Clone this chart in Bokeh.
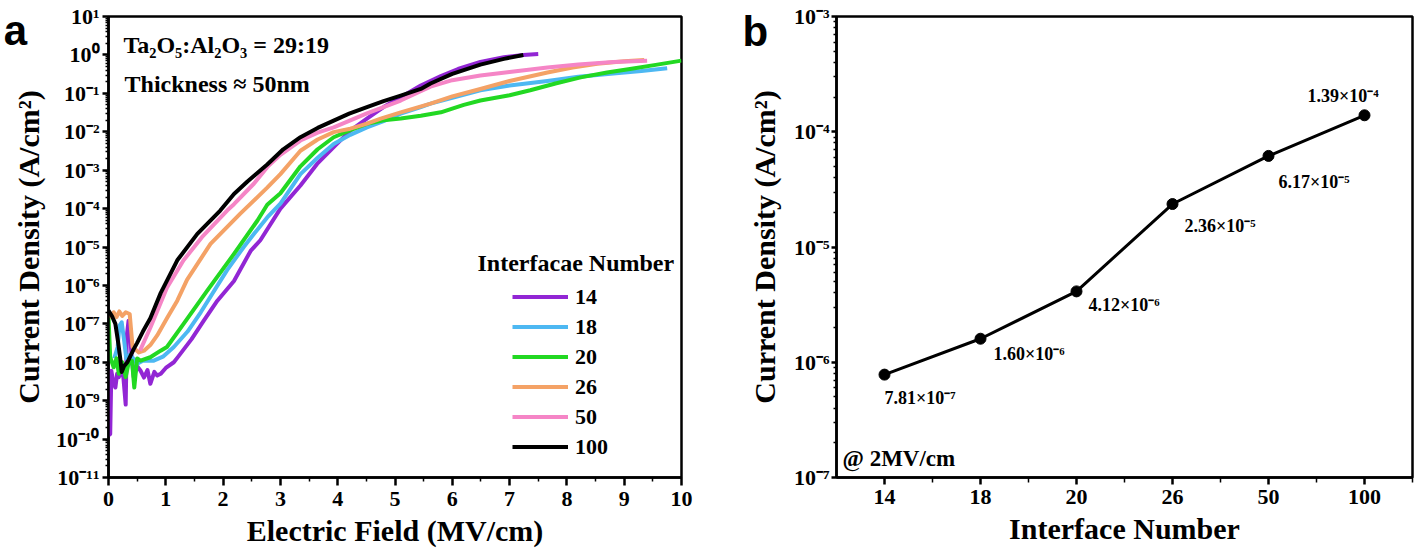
from bokeh.plotting import figure
from bokeh.layouts import row
from bokeh.models import (Legend, LegendItem, Label, FixedTicker, CustomJSTickFormatter,
                          ColumnDataSource)
from bokeh.core.properties import value
from bokeh.embed import file_html
from bokeh.resources import INLINE

SERIF = "Liberation Serif"

# ---------------- Panel a data: J-E curves (E in MV/cm, J in A/cm^2) ----------------
e_14 = [0.0, 0.03, 0.05, 0.08, 0.12, 0.15, 0.18, 0.22, 0.26, 0.3, 0.32, 0.35, 0.37, 0.4, 0.44,
        0.5, 0.56, 0.62, 0.68, 0.73, 0.8, 0.85, 0.91, 1.0, 1.14, 1.2, 1.45, 1.66, 1.9, 2.19,
        2.48, 2.65, 3.0, 3.35, 3.64, 3.93, 4.22, 4.51, 4.8, 5.1, 5.45, 5.8, 6.1, 6.49, 6.9,
        7.24, 7.5]
j_14 = [1.26e-10, 1.35e-10, 6.0e-9, 3.2e-9, 2.2e-9, 5.0e-9, 4.1e-9, 6.3e-9, 4.0e-9, 7.9e-10,
        5.0e-8, 1.2e-7, 1.0e-7, 1.6e-8, 4.1e-9, 7.9e-9, 6.0e-9, 4.0e-9, 6.3e-9, 2.75e-9, 5.6e-9,
        4.5e-9, 5.0e-9, 7.1e-9, 1.0e-8, 1.3e-8, 4.0e-8, 1.2e-7, 4.0e-7, 1.3e-6, 7.9e-6, 1.5e-5,
        1.0e-4, 4.0e-4, 1.45e-3, 4.0e-3, 1.07e-2, 2.2e-2, 4.4e-2, 7.9e-2, 0.16, 0.28, 0.43,
        0.66, 0.87, 1.0, 1.05]

e_18 = [0.1, 0.16, 0.19, 0.23, 0.27, 0.31, 0.38, 0.5, 0.6, 0.79, 0.95, 1.14, 1.38, 1.61, 2.07,
        2.36, 2.54, 2.77, 3.0, 3.35, 3.65, 3.93, 4.22, 4.51, 4.8, 5.1, 5.45, 5.62, 6.0, 6.49,
        7.0, 7.66, 8.2, 8.81, 9.3, 9.75]
j_18 = [1.26e-8, 2.5e-8, 8.9e-8, 1.1e-7, 4.0e-8, 1.26e-8, 1.6e-8, 9.1e-9, 1.1e-8, 1.1e-8,
        1.4e-8, 2.5e-8, 6.3e-8, 2.0e-7, 2.5e-6, 1.0e-5, 2.2e-5, 5.9e-5, 1.35e-4, 7.9e-4, 2.1e-3,
        4.8e-3, 8.3e-3, 1.3e-2, 1.9e-2, 2.95e-2, 4.4e-2, 5.4e-2, 7.6e-2, 0.12, 0.16, 0.21,
        0.27, 0.33, 0.38, 0.45]

e_20 = [0.0, 0.03, 0.09, 0.14, 0.18, 0.24, 0.3, 0.36, 0.41, 0.45, 0.5, 0.56, 0.73, 0.91, 1.02,
        1.31, 1.72, 2.19, 2.6, 2.77, 3.0, 3.35, 3.65, 3.93, 4.22, 4.51, 4.8, 5.1, 5.45, 5.8,
        6.2, 6.49, 7.0, 7.36, 7.8, 8.24, 8.7, 9.1, 9.55, 10.0]
j_20 = [1.5e-7, 1.35e-8, 7.4e-9, 1.26e-8, 5.0e-9, 1.0e-8, 4.1e-9, 1.1e-8, 1.1e-8, 2.2e-9,
        1.26e-8, 1.1e-8, 1.35e-8, 2.0e-8, 2.5e-8, 1.0e-7, 7.2e-7, 6.6e-6, 4.9e-5, 1.26e-4,
        2.5e-4, 1.26e-3, 3.5e-3, 7.2e-3, 1.1e-2, 1.6e-2, 2.0e-2, 2.2e-2, 2.6e-2, 3.2e-2, 5.0e-2,
        6.5e-2, 8.9e-2, 0.12, 0.18, 0.26, 0.35, 0.43, 0.55, 0.71]

e_26 = [0.02, 0.09, 0.14, 0.19, 0.24, 0.3, 0.37, 0.42, 0.53, 0.62, 0.73, 0.85, 1.02, 1.2, 1.37,
        1.78, 2.3, 2.77, 3.0, 3.35, 3.65, 3.93, 4.22, 4.5, 4.75, 5.1, 5.62, 6.0, 6.49, 7.0,
        7.66, 8.1, 8.53, 9.0, 9.35]
j_26 = [1.4e-7, 2.0e-7, 1.5e-7, 2.1e-7, 1.6e-7, 2.0e-7, 1.8e-7, 2.5e-8, 1.8e-8, 2.0e-8, 2.8e-8,
        5.0e-8, 1.4e-7, 4.0e-7, 1.4e-6, 1.2e-5, 7.4e-5, 3.5e-4, 7.9e-4, 3.2e-3, 6.3e-3, 9.8e-3,
        1.2e-2, 1.6e-2, 2.2e-2, 3.2e-2, 5.4e-2, 8.3e-2, 0.13, 0.21, 0.35, 0.47, 0.59, 0.68, 0.74]

e_50 = [0.55, 0.73, 1.02, 1.31, 1.63, 2.07, 2.19, 2.54, 2.77, 3.0, 3.35, 3.65, 3.93, 4.51, 5.1,
        5.4, 5.62, 6.0, 6.49, 7.0, 7.66, 8.2, 8.81, 9.4]
j_50 = [2.0e-8, 7.9e-8, 8.7e-7, 4.5e-6, 1.8e-5, 8.9e-5, 1.3e-4, 4.5e-4, 1.2e-3, 2.5e-3, 5.9e-3,
        9.5e-3, 1.3e-2, 3.0e-2, 6.5e-2, 0.105, 0.15, 0.22, 0.29, 0.36, 0.47, 0.56, 0.65, 0.71]

e_100 = [0.0, 0.06, 0.12, 0.17, 0.21, 0.23, 0.27, 0.33, 0.44, 0.5, 0.6, 0.73, 0.91, 1.2, 1.55,
         1.95, 2.19, 2.42, 2.77, 3.05, 3.35, 3.65, 3.93, 4.2, 4.51, 4.8, 5.1, 5.45, 5.62, 6.0,
         6.49, 6.9, 7.24]
j_100 = [2.2e-7, 1.6e-7, 1.0e-7, 3.2e-8, 1.1e-8, 5.6e-9, 7.9e-9, 1.0e-8, 2.2e-8, 3.2e-8, 6.3e-8,
         1.4e-7, 6.3e-7, 4.5e-6, 2.2e-5, 8.9e-5, 2.4e-4, 5.0e-4, 1.4e-3, 3.5e-3, 7.2e-3, 1.26e-2,
         1.95e-2, 2.95e-2, 4.4e-2, 6.3e-2, 8.7e-2, 0.13, 0.18, 0.32, 0.56, 0.79, 1.0]

series_labels = ["14", "18", "20", "26", "50", "100"]
series_e = [e_14, e_18, e_20, e_26, e_50, e_100]
series_j = [j_14, j_18, j_20, j_26, j_50, j_100]
series_colors = ["#9226D4", "#4DB8F2", "#22D822", "#F4A266", "#F585C6", "#000000"]

# ---------------- Panel b data ----------------
interface_numbers = ["14", "18", "20", "26", "50", "100"]
current_at_2mv = [7.81e-7, 1.60e-6, 4.12e-6, 2.36e-5, 6.17e-5, 1.39e-4]
value_labels = ["7.81×10⁻⁷", "1.60×10⁻⁶", "4.12×10⁻⁶", "2.36×10⁻⁵", "6.17×10⁻⁵", "1.39×10⁻⁴"]
label_dx = [0, 13, 12, 12, 10, -57]
label_dy = [13, 5, 4, 12, 16, -9]
label_base = ["top", "top", "top", "top", "top", "bottom"]

SUP_JS = """
const s = {'0':'\u2070','1':'\u00b9','2':'\u00b2','3':'\u00b3','4':'\u2074','5':'\u2075',
           '6':'\u2076','7':'\u2077','8':'\u2078','9':'\u2079','-':'\u207b'};
const e = Math.round(Math.log10(tick));
return '10' + String(e).split('').map(c => s[c]).join('');
"""


def style_axis(ax, label_size, tick_size="22px"):
    ax.axis_line_width = 2.5
    ax.axis_line_color = "black"
    ax.major_tick_line_width = 2.5
    ax.major_tick_line_color = "black"
    ax.minor_tick_line_width = 1.5
    ax.minor_tick_line_color = "black"
    ax.major_tick_in = 0
    ax.minor_tick_in = 0
    ax.major_label_text_font = SERIF
    ax.major_label_text_font_style = "bold"
    ax.major_label_text_font_size = tick_size
    ax.major_label_text_color = "black"
    ax.axis_label_text_font = SERIF
    ax.axis_label_text_font_style = "bold"
    ax.axis_label_text_font_size = label_size
    ax.axis_label_text_color = "black"


txt_style = dict(text_font=SERIF, text_font_style="bold", text_color="black",
                 text_baseline="alphabetic")
letter_style = dict(text_font="Liberation Sans", text_font_style="bold", text_font_size="42px",
                    text_color="black", text_baseline="alphabetic")

# ---------------- Panel a ----------------
p1 = figure(width=706, height=558, y_axis_type="log", x_range=(0, 10), y_range=(1e-11, 10),
            output_backend="svg", toolbar_location=None,
            min_border_left=108, min_border_right=25, min_border_top=16, min_border_bottom=81)
p1.grid.visible = False
p1.outline_line_color = "black"
p1.outline_line_width = 2.5
p1.outline_line_alpha = 1.0

renderers = []
for lab, ex, jy, col in zip(series_labels, series_e, series_j, series_colors):
    src = ColumnDataSource(dict(e=ex, j=jy))
    r = p1.line("e", "j", source=src, line_color=col, line_width=4, line_join="round")
    renderers.append((lab, r))

p1.xaxis.axis_label = "Electric Field (MV/cm)"
p1.yaxis.axis_label = "Current Density (A/cm²)"
p1.xaxis.ticker = FixedTicker(ticks=list(range(0, 11)),
                              minor_ticks=[i + 0.5 for i in range(0, 10)])
p1.yaxis.ticker = FixedTicker(ticks=[10.0 ** k for k in range(-11, 2)],
                              minor_ticks=[m * 10.0 ** k for k in range(-11, 1) for m in range(2, 10)])
p1.yaxis.formatter = CustomJSTickFormatter(code=SUP_JS)
for ax in p1.xaxis:
    style_axis(ax, "30px")
    ax.major_tick_out = 8
    ax.minor_tick_out = 4
    ax.major_label_standoff = 6
    ax.axis_label_standoff = 5
for ax in p1.yaxis:
    style_axis(ax, "30px")
    ax.major_tick_out = 6
    ax.minor_tick_out = 3
    ax.major_label_standoff = 3
    ax.axis_label_standoff = 8

legend = Legend(items=[LegendItem(label=lab, renderers=[r]) for lab, r in renderers],
                location=(404, 17), orientation="vertical",
                glyph_width=56, glyph_height=27, label_height=27, spacing=3,
                label_standoff=7, padding=0, margin=0,
                label_text_font=SERIF, label_text_font_style="bold",
                label_text_font_size="22px", label_text_color="black",
                border_line_color=None, background_fill_alpha=0)
p1.add_layout(legend, "center")

p1.add_layout(Label(x=6.44, y=3.9e-6, text="Interfacae Number", text_font_size="24px", **txt_style))
p1.add_layout(Label(x=0.26, y=1.76, text="Ta₂O₅:Al₂O₃ = 29:19", text_font_size="24px", **txt_style))
p1.add_layout(Label(x=0.28, y=0.17, text="Thickness ≈ 50nm", text_font_size="24px", **txt_style))
# panel letter lives in a side panel so it is not clipped to the frame
p1.add_layout(Label(x=-1.83, y=4.3, text="a", **letter_style), "right")

# ---------------- Panel b ----------------
x_idx = list(range(len(interface_numbers)))
p2 = figure(width=712, height=558, y_axis_type="log", x_range=(-0.5, 5.5), y_range=(1e-7, 1e-3),
            output_backend="svg", toolbar_location=None,
            min_border_left=130, min_border_right=6, min_border_top=15, min_border_bottom=79)
p2.grid.visible = False
p2.outline_line_color = "black"
p2.outline_line_width = 2.5
p2.outline_line_alpha = 1.0

src2 = ColumnDataSource(dict(x=x_idx, y=current_at_2mv, lab=value_labels,
                             dx=label_dx, dy=label_dy, base=label_base))
p2.line("x", "y", source=src2, line_color="black", line_width=3)
p2.scatter("x", "y", source=src2, size=11, color="black")
p2.text("x", "y", text="lab", source=src2, x_offset="dx", y_offset="dy",
        text_baseline="base", text_align="left",
        text_font=value(SERIF), text_font_style="bold", text_font_size="18px", text_color="black")

p2.xaxis.axis_label = "Interface Number"
p2.yaxis.axis_label = "Current Density (A/cm²)"
p2.xaxis.ticker = FixedTicker(ticks=x_idx, minor_ticks=[i + 0.5 for i in x_idx])
p2.xaxis.major_label_overrides = {i: n for i, n in zip(x_idx, interface_numbers)}
p2.yaxis.ticker = FixedTicker(ticks=[10.0 ** k for k in range(-7, -2)],
                              minor_ticks=[m * 10.0 ** k for k in range(-7, -3) for m in range(2, 10)])
p2.yaxis.formatter = CustomJSTickFormatter(code=SUP_JS)
for ax in p2.xaxis:
    style_axis(ax, "30px")
    ax.major_tick_out = 7
    ax.minor_tick_out = 5
    ax.major_label_standoff = 5
    ax.axis_label_standoff = 5
for ax in p2.yaxis:
    style_axis(ax, "30px")
    ax.major_tick_out = 5
    ax.minor_tick_out = 3
    ax.major_label_standoff = 2
    ax.axis_label_standoff = 10

p2.add_layout(Label(x=-0.4375, y=1.46e-7, text="@ 2MV/cm", text_font_size="23px", **txt_style))
p2.add_layout(Label(x=-1.479, y=7.4e-4, text="b", **letter_style), "left")

layout = row(p1, p2, spacing=0)
open("out.html", "w", encoding="utf-8").write(file_html(layout, INLINE))
